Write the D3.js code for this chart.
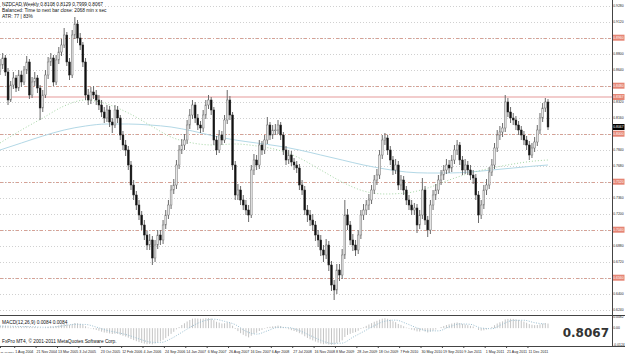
<!DOCTYPE html>
<html>
<head>
<meta charset="utf-8">
<script src="https://cdn.jsdelivr.net/npm/d3@7"></script>
<style>
  body { margin: 0; background: #fff; }
  svg { display: block; font-family: "Liberation Sans", "DejaVu Sans", sans-serif; }
</style>
</head>
<body>
<svg id="chart"></svg>
<script>
const width = 625;
const height = 355;

// ---- data ----
const firstBarDate = "16 May 2004";   // bars two weeks apart
const firstOpen = 0.8627;
const closes = [
  0.8687, 0.8757, 0.8617, 0.8337, 0.8487, 0.8557, 0.8457, 0.8587, 0.8517, 0.8637,
  0.8717, 0.8387, 0.8517, 0.8557, 0.8457, 0.8257, 0.8387, 0.8587, 0.8717, 0.8757,
  0.8517, 0.8737, 0.8817, 0.8887, 0.8987, 0.8717, 0.8587, 0.8987, 0.9097, 0.8957,
  0.8887, 0.8717, 0.8387, 0.8337, 0.8417, 0.8387, 0.8337, 0.8287, 0.8217, 0.8157,
  0.8237, 0.8117, 0.8087, 0.8237, 0.8157, 0.7987, 0.7887, 0.7837, 0.7687, 0.7487,
  0.7387, 0.7287, 0.7187, 0.7087, 0.6987, 0.6887, 0.6937, 0.6757, 0.6887, 0.6987,
  0.6937, 0.7087, 0.7187, 0.7287, 0.7437, 0.7487, 0.7687, 0.7837, 0.7887, 0.7937,
  0.8087, 0.8187, 0.8287, 0.8157, 0.8087, 0.8057, 0.8187, 0.8287, 0.8337, 0.8237,
  0.7937, 0.7837, 0.7987, 0.7937, 0.8137, 0.8337, 0.8187, 0.7687, 0.7387, 0.7437,
  0.7337, 0.7287, 0.7237, 0.7187, 0.7637, 0.7737, 0.7687, 0.7887, 0.7837, 0.7937,
  0.8087, 0.7987, 0.8037, 0.8037, 0.8087, 0.7987, 0.7837, 0.7737, 0.7787, 0.7717,
  0.7687, 0.7657, 0.7487, 0.7437, 0.7237, 0.7187, 0.7137, 0.7087, 0.6987, 0.6937,
  0.6837, 0.6787, 0.6887, 0.6687, 0.6487, 0.6437, 0.6637, 0.6587, 0.6787, 0.7187,
  0.7087, 0.6937, 0.6887, 0.6837, 0.6987, 0.7187, 0.7237, 0.7287, 0.7337, 0.7437,
  0.7537, 0.7587, 0.7787, 0.7937, 0.7957, 0.7837, 0.7737, 0.7637, 0.7687, 0.7487,
  0.7537, 0.7437, 0.7337, 0.7287, 0.7237, 0.7257, 0.7087, 0.7187, 0.7437, 0.7137,
  0.7037, 0.7287, 0.7387, 0.7437, 0.7537, 0.7587, 0.7637, 0.7687, 0.7657, 0.7737,
  0.7837, 0.7887, 0.7737, 0.7637, 0.7687, 0.7637, 0.7587, 0.7557, 0.7387, 0.7187,
  0.7287, 0.7437, 0.7487, 0.7617, 0.7687, 0.7857, 0.7987, 0.8017, 0.8057, 0.8317,
  0.8217, 0.8157, 0.8137, 0.8087, 0.8037, 0.7987, 0.7937, 0.7887, 0.7787, 0.7857,
  0.7917, 0.8037, 0.8157, 0.8257, 0.8317, 0.8067
];
const highs = [
  0.8747, 0.8807, 0.8787, 0.8657, 0.8527, 0.8617, 0.8587, 0.8637, 0.8627, 0.8677,
  0.8777, 0.8747, 0.8567, 0.8617, 0.8587, 0.8487, 0.8437, 0.8637, 0.8767, 0.8807,
  0.8787, 0.8787, 0.8867, 0.8947, 0.9057, 0.9017, 0.8757, 0.9037, 0.9167, 0.9137,
  0.9007, 0.8917, 0.8757, 0.8447, 0.8467, 0.8477, 0.8437, 0.8387, 0.8337, 0.8267,
  0.8287, 0.8277, 0.8157, 0.8287, 0.8277, 0.8187, 0.8027, 0.7937, 0.7877, 0.7727,
  0.7537, 0.7427, 0.7337, 0.7227, 0.7137, 0.7027, 0.6997, 0.6977, 0.6937, 0.7037,
  0.7037, 0.7137, 0.7237, 0.7337, 0.7487, 0.7547, 0.7737, 0.7887, 0.7947, 0.7997,
  0.8137, 0.8247, 0.8337, 0.8317, 0.8197, 0.8127, 0.8237, 0.8337, 0.8387, 0.8367,
  0.8267, 0.7977, 0.8037, 0.8027, 0.8187, 0.8437, 0.8377, 0.8217, 0.7727, 0.7497,
  0.7477, 0.7387, 0.7337, 0.7287, 0.7687, 0.7797, 0.7787, 0.7937, 0.7927, 0.7987,
  0.8167, 0.8117, 0.8087, 0.8097, 0.8137, 0.8117, 0.8017, 0.7877, 0.7837, 0.7827,
  0.7757, 0.7727, 0.7697, 0.7537, 0.7477, 0.7287, 0.7237, 0.7197, 0.7127, 0.7037,
  0.6987, 0.6887, 0.6947, 0.6927, 0.6727, 0.6537, 0.6697, 0.6697, 0.6847, 0.7337,
  0.7247, 0.7127, 0.6997, 0.6937, 0.7037, 0.7237, 0.7297, 0.7337, 0.7397, 0.7487,
  0.7587, 0.7647, 0.7837, 0.7987, 0.8007, 0.7987, 0.7877, 0.7777, 0.7747, 0.7727,
  0.7587, 0.7577, 0.7477, 0.7387, 0.7337, 0.7307, 0.7297, 0.7237, 0.7557, 0.7477,
  0.7177, 0.7337, 0.7437, 0.7497, 0.7587, 0.7637, 0.7687, 0.7747, 0.7737, 0.7787,
  0.7887, 0.7937, 0.7917, 0.7777, 0.7747, 0.7727, 0.7687, 0.7637, 0.7597, 0.7427,
  0.7337, 0.7487, 0.7547, 0.7667, 0.7747, 0.7907, 0.8037, 0.8077, 0.8107, 0.8387,
  0.8357, 0.8267, 0.8207, 0.8177, 0.8127, 0.8077, 0.8027, 0.7977, 0.7927, 0.7907,
  0.7967, 0.8087, 0.8207, 0.8307, 0.8357, 0.8347
];
const lows = [
  0.8587, 0.8647, 0.8577, 0.8287, 0.8317, 0.8447, 0.8417, 0.8427, 0.8467, 0.8487,
  0.8597, 0.8347, 0.8357, 0.8477, 0.8407, 0.8137, 0.8217, 0.8357, 0.8547, 0.8677,
  0.8477, 0.8487, 0.8697, 0.8777, 0.8857, 0.8677, 0.8537, 0.8557, 0.8947, 0.8907,
  0.8837, 0.8667, 0.8337, 0.8287, 0.8297, 0.8347, 0.8287, 0.8237, 0.8167, 0.8107,
  0.8117, 0.8067, 0.8007, 0.8057, 0.8107, 0.7937, 0.7837, 0.7777, 0.7637, 0.7437,
  0.7337, 0.7237, 0.7137, 0.7037, 0.6937, 0.6837, 0.6837, 0.6687, 0.6717, 0.6847,
  0.6887, 0.6897, 0.7047, 0.7147, 0.7247, 0.7397, 0.7447, 0.7647, 0.7797, 0.7837,
  0.7897, 0.8047, 0.8147, 0.8107, 0.8037, 0.8007, 0.8017, 0.8147, 0.8247, 0.8187,
  0.7887, 0.7787, 0.7807, 0.7887, 0.7907, 0.8097, 0.8137, 0.7637, 0.7337, 0.7337,
  0.7287, 0.7237, 0.7187, 0.7117, 0.7157, 0.7587, 0.7637, 0.7647, 0.7787, 0.7797,
  0.7897, 0.7937, 0.7947, 0.7987, 0.7997, 0.7937, 0.7787, 0.7687, 0.7697, 0.7677,
  0.7637, 0.7607, 0.7437, 0.7387, 0.7187, 0.7117, 0.7077, 0.7027, 0.6927, 0.6867,
  0.6777, 0.6717, 0.6747, 0.6627, 0.6427, 0.6337, 0.6397, 0.6527, 0.6547, 0.6747,
  0.7037, 0.6887, 0.6827, 0.6777, 0.6797, 0.6947, 0.7137, 0.7187, 0.7237, 0.7297,
  0.7397, 0.7487, 0.7547, 0.7747, 0.7887, 0.7787, 0.7687, 0.7587, 0.7597, 0.7437,
  0.7437, 0.7387, 0.7287, 0.7237, 0.7187, 0.7187, 0.7007, 0.7047, 0.7147, 0.7087,
  0.6967, 0.6997, 0.7237, 0.7337, 0.7397, 0.7487, 0.7537, 0.7597, 0.7607, 0.7617,
  0.7697, 0.7787, 0.7687, 0.7587, 0.7597, 0.7587, 0.7537, 0.7497, 0.7337, 0.7107,
  0.7147, 0.7247, 0.7387, 0.7447, 0.7577, 0.7647, 0.7817, 0.7937, 0.7967, 0.8017,
  0.8167, 0.8107, 0.8087, 0.8037, 0.7987, 0.7937, 0.7887, 0.7837, 0.7737, 0.7757,
  0.7817, 0.7877, 0.7997, 0.8117, 0.8217, 0.8037
];

// moving averages, read at the bars listed in maBars
const maBars = [0, 8, 16, 24, 32, 40, 48, 56, 64, 72, 80, 88, 96, 104, 112, 120, 128,
                136, 144, 152, 160, 168, 176, 184, 192, 200, 205];
const maFast = [0.7907, 0.8037, 0.8157, 0.8277, 0.8337, 0.8297, 0.8207, 0.8087, 0.7967,
                0.7907, 0.7887, 0.7897, 0.7877, 0.7837, 0.7757, 0.7637, 0.7517, 0.7427,
                0.7397, 0.7407, 0.7457, 0.7537, 0.7607, 0.7657, 0.7697, 0.7727, 0.7737];
const maSlow = [0.7837, 0.7907, 0.7977, 0.8037, 0.8077, 0.8097, 0.8097, 0.8087, 0.8067,
                0.8027, 0.7977, 0.7937, 0.7907, 0.7877, 0.7837, 0.7787, 0.7737, 0.7687,
                0.7647, 0.7617, 0.7607, 0.7607, 0.7617, 0.7637, 0.7657, 0.7677, 0.7687];

// MACD(12,26,9) main histogram, one value per bar
const macd = [
  0.0016, 0.0018, 0.0017, 0.0012, 0.0011, 0.0012, 0.0010, 0.0012, 0.0011, 0.0013,
  0.0015, 0.0010, 0.0009, 0.0009, 0.0007, 0.0002, 0.0001, 0.0004, 0.0009, 0.0013,
  0.0011, 0.0015, 0.0020, 0.0026, 0.0033, 0.0029, 0.0024, 0.0031, 0.0038, 0.0036,
  0.0032, 0.0025, 0.0014, 0.0004, -0.0003, -0.0008, -0.0013, -0.0019, -0.0026, -0.0032,
  -0.0034, -0.0039, -0.0043, -0.0041, -0.0042, -0.0049, -0.0056, -0.0062, -0.0070, -0.0080,
  -0.0088, -0.0096, -0.0103, -0.0109, -0.0114, -0.0118, -0.0116, -0.0119, -0.0113, -0.0104,
  -0.0097, -0.0086, -0.0073, -0.0059, -0.0042, -0.0027, -0.0009, 0.0008, 0.0023, 0.0036,
  0.0049, 0.0060, 0.0070, 0.0072, 0.0071, 0.0069, 0.0070, 0.0073, 0.0074, 0.0071,
  0.0059, 0.0047, 0.0041, 0.0034, 0.0036, 0.0043, 0.0040, 0.0018, -0.0006, -0.0022,
  -0.0037, -0.0049, -0.0059, -0.0068, -0.0056, -0.0042, -0.0034, -0.0021, -0.0013, -0.0004,
  0.0007, 0.0010, 0.0013, 0.0015, 0.0019, 0.0016, 0.0008, -0.0002, -0.0008, -0.0015,
  -0.0021, -0.0027, -0.0037, -0.0046, -0.0060, -0.0072, -0.0082, -0.0090, -0.0099, -0.0106,
  -0.0113, -0.0118, -0.0116, -0.0120, -0.0122, -0.0121, -0.0111, -0.0103, -0.0090, -0.0065,
  -0.0050, -0.0042, -0.0035, -0.0029, -0.0019, -0.0006, 0.0006, 0.0017, 0.0027, 0.0037,
  0.0047, 0.0054, 0.0063, 0.0070, 0.0073, 0.0069, 0.0062, 0.0051, 0.0044, 0.0031,
  0.0024, 0.0014, 0.0004, -0.0004, -0.0011, -0.0016, -0.0024, -0.0025, -0.0015, -0.0024,
  -0.0032, -0.0026, -0.0018, -0.0010, 0.0000, 0.0008, 0.0016, 0.0023, 0.0028, 0.0034,
  0.0039, 0.0042, 0.0038, 0.0031, 0.0027, 0.0022, 0.0017, 0.0012, 0.0001, -0.0013,
  -0.0018, -0.0016, -0.0010, 0.0000, 0.0009, 0.0022, 0.0034, 0.0043, 0.0050, 0.0064,
  0.0068, 0.0069, 0.0068, 0.0065, 0.0061, 0.0055, 0.0048, 0.0040, 0.0030, 0.0025,
  0.0022, 0.0023, 0.0028, 0.0033, 0.0038, 0.0034
];
// signal line, read every 4th bar
const signalBars = d3.range(0, 205, 4);
const signal = [
  0.0015, 0.0014, 0.0012, 0.0011, 0.0007, 0.0009, 0.0018, 0.0028, 0.0027, 0.0008,
  -0.0016, -0.0033, -0.0052, -0.0079, -0.0102, -0.0106, -0.0077, -0.0031, 0.0016, 0.0052,
  0.0066, 0.0050, 0.0026, -0.0023, -0.0044, -0.0020, 0.0006, 0.0004, -0.0018, -0.0054,
  -0.0089, -0.0112, -0.0110, -0.0067, -0.0025, 0.0018, 0.0051, 0.0059, 0.0034, 0.0002,
  -0.0020, -0.0020, 0.0009, 0.0031, 0.0028, 0.0001, -0.0004, 0.0030, 0.0057, 0.0058,
  0.0040, 0.0030
];

const timeLabels = ["11 Apr 2004", "1 Aug 2004", "21 Nov 2004", "13 Mar 2005", "3 Jul 2005",
  "23 Oct 2005", "12 Feb 2006", "4 Jun 2006", "24 Sep 2006", "14 Jan 2007", "6 May 2007",
  "26 Aug 2007", "16 Dec 2007", "6 Apr 2008", "27 Jul 2008", "16 Nov 2008", "8 Mar 2009",
  "28 Jun 2009", "18 Oct 2009", "7 Feb 2010", "30 May 2010", "19 Sep 2010", "9 Jan 2011",
  "1 May 2011", "21 Aug 2011", "11 Dec 2011"];
const priceTicks = [0.9280, 0.9120, 0.8960, 0.8800, 0.8640, 0.8480, 0.8320, 0.8160, 0.8000,
  0.7840, 0.7680, 0.7520, 0.7360, 0.7200, 0.7040, 0.6880, 0.6720, 0.6560, 0.6400, 0.6240];
const levelLines = [0.8960, 0.8480, 0.8000, 0.7520, 0.7040, 0.6560];
const pinkLevel = 0.8367;
const lastPrice = 0.8067;
const macdTicks = [0.0082, 0, -0.0124];
const macdTickText = ["0.0082", "0.00", "-0.0124"];

// ---- layout ----
const axisX = 612;
const mainBottom = 315;
const macdTop = 316, macdBottom = 346;

const svg = d3.select('#chart').attr('width', width).attr('height', height);
svg.append('rect').attr('width', width).attr('height', height).attr('fill', '#fff');

const parseDay = d3.timeParse("%d %b %Y");
const start = parseDay(firstBarDate);
const barDates = closes.map((c, i) => d3.timeDay.offset(start, 14 * i));
const opens = [firstOpen].concat(closes.slice(0, -1));

const x = d3.scaleTime()
  .domain([barDates[0], barDates[barDates.length - 1]])
  .range([0, 548]);
const y = d3.scaleLinear().domain([0.9337, 0.6187]).range([0, mainBottom]);
const ym = d3.scaleLinear().domain([0.0082, -0.0124]).range([macdTop + 1, macdBottom - 1]);

svg.append('clipPath').attr('id', 'mainClip')
  .append('rect').attr('x', 0).attr('y', 0).attr('width', axisX).attr('height', mainBottom);
svg.append('clipPath').attr('id', 'macdClip')
  .append('rect').attr('x', 0).attr('y', macdTop).attr('width', axisX).attr('height', macdBottom - macdTop);

const main = svg.append('g').attr('clip-path', 'url(#mainClip)');

// grid
main.selectAll('.grid').data(priceTicks).enter().append('line')
  .attr('x1', 0).attr('x2', axisX)
  .attr('y1', d => Math.round(y(d)) + 0.5).attr('y2', d => Math.round(y(d)) + 0.5)
  .attr('stroke', '#d0d0d0').attr('stroke-dasharray', '1,2');

// level lines
main.selectAll('.level').data(levelLines).enter().append('line')
  .attr('x1', 0).attr('x2', axisX)
  .attr('y1', d => Math.round(y(d)) + 0.5).attr('y2', d => Math.round(y(d)) + 0.5)
  .attr('stroke', '#d6a195').attr('stroke-dasharray', '3,2,1,2');
main.append('line')
  .attr('x1', 0).attr('x2', axisX)
  .attr('y1', y(pinkLevel)).attr('y2', y(pinkLevel))
  .attr('stroke', '#f2cccc').attr('stroke-width', 2);

// moving averages
const maLine = vals => d3.line()
  .x(d => x(barDates[d]))
  .y((d, k) => y(vals[k]))
  .curve(d3.curveMonotoneX)(maBars);
main.append('path').attr('d', maLine(maSlow))
  .attr('fill', 'none').attr('stroke', '#b3d8e6').attr('stroke-width', 1);
main.append('path').attr('d', maLine(maFast))
  .attr('fill', 'none').attr('stroke', '#a6d6a6').attr('stroke-width', 1)
  .attr('stroke-dasharray', '1,2');

// candles
const candles = main.selectAll('.candle').data(closes).enter().append('g');
candles.append('line')
  .attr('x1', (d, i) => x(barDates[i])).attr('x2', (d, i) => x(barDates[i]))
  .attr('y1', (d, i) => y(highs[i])).attr('y2', (d, i) => y(lows[i]))
  .attr('stroke', '#6a6a6a').attr('stroke-width', 1);
candles.append('rect')
  .attr('x', (d, i) => x(barDates[i]) - 0.9)
  .attr('width', 1.8)
  .attr('y', (d, i) => y(Math.max(opens[i], d)))
  .attr('height', (d, i) => Math.max(0.8, Math.abs(y(opens[i]) - y(d))))
  .attr('fill', (d, i) => d >= opens[i] ? '#e6e6e6' : '#111')
  .attr('stroke', (d, i) => d >= opens[i] ? '#777' : '#222').attr('stroke-width', 0.5);

// MACD panel
const mp = svg.append('g').attr('clip-path', 'url(#macdClip)');
mp.selectAll('.hist').data(macd).enter().append('rect')
  .attr('x', (d, i) => x(barDates[i]) - 0.5)
  .attr('width', 1)
  .attr('y', d => Math.min(ym(0), ym(d)))
  .attr('height', d => Math.abs(ym(d) - ym(0)))
  .attr('fill', '#c4c4c4');
mp.append('path')
  .attr('d', d3.line().x(d => x(barDates[d])).y((d, k) => ym(signal[k])).curve(d3.curveMonotoneX)(signalBars))
  .attr('fill', 'none').attr('stroke', '#9cc0d2').attr('stroke-width', 1)
  .attr('stroke-dasharray', '1,1.5');

// panel borders and price axis
svg.append('line').attr('x1', 0).attr('x2', width).attr('y1', mainBottom + 0.5).attr('y2', mainBottom + 0.5)
  .attr('stroke', '#444');
svg.append('line').attr('x1', 0).attr('x2', width).attr('y1', macdBottom + 0.5).attr('y2', macdBottom + 0.5)
  .attr('stroke', '#444');
svg.append('line').attr('x1', axisX + 0.5).attr('x2', axisX + 0.5).attr('y1', 0).attr('y2', macdBottom)
  .attr('stroke', '#444');

const ax = svg.append('g').style('font-size', '3.4px');
const axisText = sel => sel.attr('x', axisX + 1.2).attr('dy', '0.35em');
ax.selectAll('.pt').data(priceTicks).enter().append('text')
  .call(axisText).attr('y', d => y(d))
  .attr('fill', '#222').text(d => d.toFixed(4));
ax.selectAll('.lvbg').data(levelLines.concat([pinkLevel])).enter().append('rect')
  .attr('x', axisX + 1).attr('y', d => y(d) - 3).attr('width', 11.5).attr('height', 6)
  .attr('fill', '#e58575');
ax.selectAll('.lv').data(levelLines.concat([pinkLevel])).enter().append('text')
  .call(axisText).attr('y', d => y(d))
  .attr('fill', '#fff').text(d => d.toFixed(4));
ax.append('rect').attr('x', axisX + 1).attr('y', y(lastPrice) - 3).attr('width', 11.5).attr('height', 6)
  .attr('fill', '#000');
ax.append('text').call(axisText).attr('y', y(lastPrice))
  .attr('fill', '#fff').text(lastPrice.toFixed(4));
ax.selectAll('.mt').data(macdTicks).enter().append('text')
  .call(axisText).attr('y', d => ym(d))
  .attr('fill', '#222').text((d, i) => macdTickText[i]);

// time axis
const tx = svg.append('g').style('font-size', '3.6px').attr('fill', '#222');
timeLabels.forEach((t, i) => {
  const px = x(parseDay(t));
  tx.append('line').attr('x1', Math.max(0.5, px)).attr('x2', Math.max(0.5, px))
    .attr('y1', macdBottom).attr('y2', macdBottom + 2).attr('stroke', '#444');
  tx.append('text').attr('x', i === 0 ? 0.5 : px + 0.5).attr('y', 353)
    .style('font-size', i === 0 ? '2.5px' : null)
    .text(t);
});

// texts
const info = svg.append('g').style('font-size', '4.8px').attr('fill', '#111');
info.append('text').attr('x', 2).attr('y', 6).text('NZDCAD,Weekly  0.8108 0.8129 0.7999 0.8067');
info.append('text').attr('x', 2).attr('y', 12).text('Balanced: Time to next bar close: 2068 min x sec');
info.append('text').attr('x', 2).attr('y', 18).text('ATR: 77  |  83%');
info.append('text').attr('x', 2).attr('y', 324).text('MACD(12,26,9) 0.0084 0.0084');
info.append('text').attr('x', 2).attr('y', 343).text('FxPro MT4, \u00a9 2001-2011 MetaQuotes Software Corp.');

svg.append('text').attr('x', 609).attr('y', 337).attr('text-anchor', 'end')
  .style('font-family', '"DejaVu Sans", sans-serif')
  .style('font-size', '12px').style('font-weight', 'bold').attr('fill', '#333')
  .text(lastPrice.toFixed(4));
</script>
</body>
</html>
